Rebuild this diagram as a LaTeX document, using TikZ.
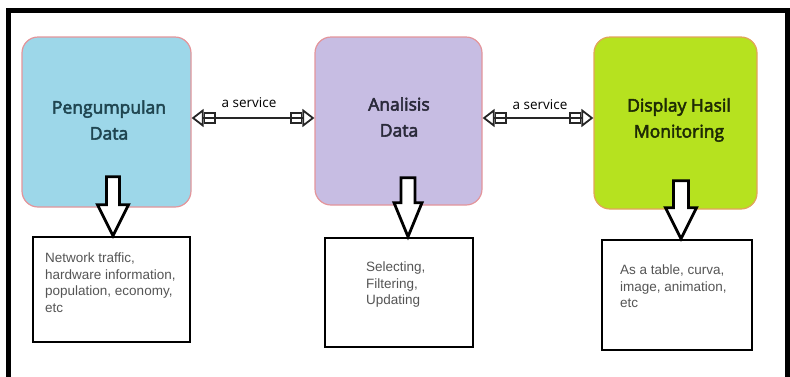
\documentclass[tikz,border=0pt]{standalone}
\usepackage{fontspec}
\setmainfont{Open Sans}
\newfontfamily\headfont{Open Sans}[FakeBold=3]
\newfontfamily\boxfont{Liberation Sans}
\usetikzlibrary{arrows.meta,calc}
\definecolor{cyanbox}{HTML}{9DD7E9}
\definecolor{purplebox}{HTML}{C7BDE3}
\definecolor{greenbox}{HTML}{B6E21F}
\definecolor{pinkline}{HTML}{E3959B}
\definecolor{orangeline}{HTML}{E2A45A}
\definecolor{grtext}{HTML}{555555}
\definecolor{headA}{HTML}{1F4550}
\definecolor{headB}{HTML}{2A2A3A}
\definecolor{headC}{HTML}{1E2A05}
\begin{document}
\begin{tikzpicture}[x=1pt,y=-1pt,
  topbox/.style={rounded corners=16pt,line width=1.2pt,inner sep=0pt},
  headtext/.style={font=\headfont\fontsize{17.5}{26}\selectfont,align=center,inner sep=0pt},
  infobox/.style={draw=black,line width=2.6pt,fill=white,inner sep=0pt},
  infotext/.style={font=\boxfont\fontsize{13.5}{16.5}\selectfont,text=grtext,align=left,anchor=north west,inner sep=0pt},
  blockarrow/.style={draw=black,line width=2.8pt,fill=white,line join=miter},
  service/.style={draw=black!85,line width=2.5pt,
    {Triangle[open,length=8pt,width=12pt,line width=1.8pt]Rectangle[open,length=8pt,width=8pt,line width=1.8pt]}-{Rectangle[open,length=8pt,width=8pt,line width=1.8pt]Triangle[open,length=8pt,width=12pt,line width=1.8pt]},
    arrows={[scale=1.5]}},
  svclabel/.style={font=\fontsize{13.5}{15}\selectfont,inner sep=0pt}]
\useasboundingbox (0,0) rectangle (790,376);
% frame
\draw[line width=5pt] (8,380) -- (8,10) -- (787,10) -- (787,380);
% top boxes
\node[topbox,fill=cyanbox,draw=pinkline,minimum width=169pt,minimum height=170pt] (b1) at (106.5,122) {};
\node[topbox,fill=purplebox,draw=pinkline,minimum width=167pt,minimum height=168pt] (b2) at (398.5,121) {};
\node[topbox,fill=greenbox,draw=orangeline,minimum width=163pt,minimum height=172pt] (b3) at (675.5,123) {};
\node[headtext,text=headA] (h1) at (109,120) {Pengumpulan\\Data};
\node[headtext,text=headB] (h2) at (399,117) {Analisis\\Data};
\node[headtext,text=headC] (h3) at (679,120) {Display Hasil\\Monitoring};
% service connectors
\coordinate (c1a) at (b1.east |- 0,118);
\coordinate (c1b) at (b2.west |- 0,118);
\coordinate (c2a) at (b2.east |- 0,118);
\coordinate (c2b) at (b3.west |- 0,118);
\draw[service] (c1a) -- (c1b);
\draw[service] (c2a) -- (c2b);
\node[svclabel] (s1) at (249,103) {a service};
\node[svclabel] (s2) at (540,105) {a service};
% bottom boxes
\node[infobox,minimum width=157pt,minimum height=105pt] (ba) at (111.5,289.5) {};
\node[infobox,minimum width=148pt,minimum height=109pt] (bb) at (399,292.5) {};
\node[infobox,minimum width=150pt,minimum height=110pt] (bc) at (677,295) {};
\node[infotext] (ta) at (45,253) {Network traffic,\\hardware information,\\population, economy,\\etc};
\node[infotext] (tb) at (366,262) {Selecting,\\Filtering,\\Updating};
\node[infotext] (tc) at (620,265) {As a table, curva,\\image, animation,\\etc};
% block arrows
\coordinate (p1) at ($(ba.north)+(1.5,0)$);
\coordinate (p2) at ($(bb.north)+(9,0)$);
\coordinate (p3) at ($(bc.north)+(4,0)$);
\draw[blockarrow] (p1) -- ++(-15.5,-31) -- ++(9,0) -- ++(0,-28) -- ++(13,0) -- ++(0,28) -- ++(9,0) -- cycle;
\draw[blockarrow] (p2) -- ++(-14,-34) -- ++(7,0) -- ++(0,-25) -- ++(14,0) -- ++(0,25) -- ++(7,0) -- cycle;
\draw[blockarrow] (p3) -- ++(-15.5,-31) -- ++(8,0) -- ++(0,-27) -- ++(15,0) -- ++(0,27) -- ++(8,0) -- cycle;
\end{tikzpicture}
\end{document}
